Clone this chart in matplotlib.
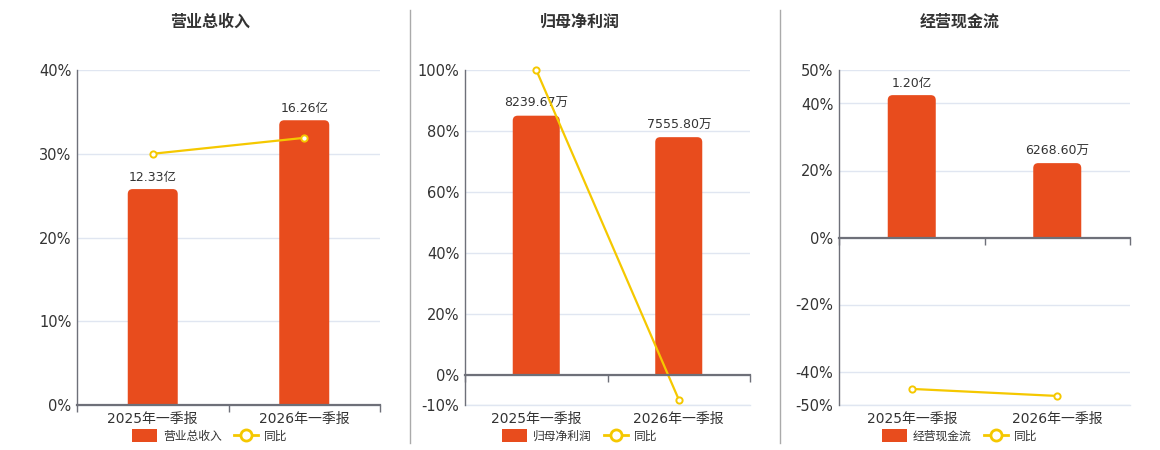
import matplotlib
matplotlib.use('Agg')
import matplotlib.pyplot as plt
from matplotlib.patches import Patch, PathPatch
from matplotlib.path import Path
from matplotlib.lines import Line2D

plt.rcParams['font.family'] = ['DejaVu Sans', 'Noto Sans CJK SC']

# 数据
categories = ['2025年一季报', '2026年一季报']

titles = ['营业总收入', '归母净利润', '经营现金流']

rev_values = [12.33, 16.26]          # 亿
rev_labels = ['12.33亿', '16.26亿']
rev_yoy = [30.0, 31.9]

profit_values = [8239.67, 7555.80]   # 万
profit_labels = ['8239.67万', '7555.80万']
profit_yoy = [100.0, -8.2]

cash_values = [12000.0, 6268.60]     # 万
cash_labels = ['1.20亿', '6268.60万']
cash_yoy = [-45.2, -47.3]

y_limits = [(0, 40), (-10, 100), (-50, 50)]
y_ticks = [[0, 10, 20, 30, 40],
           [-10, 0, 20, 40, 60, 80, 100],
           [-50, -40, -20, 0, 20, 40, 50]]

BAR_COLOR = '#e84c1d'
LINE_COLOR = '#f5c800'
AXIS_COLOR = '#6e7079'
GRID_COLOR = '#e0e6f1'
TEXT_COLOR = '#333333'

W, H = 1160, 450
fig = plt.figure(figsize=(W / 100, H / 100), dpi=100)

# 每个子图的像素位置 (左, 右), 以及标题/图例中心
panels = [(77, 380, 210), (465, 750, 580), (839, 1130, 960)]
top_px, bottom_px = 70, 405

series = [(rev_values, rev_labels, rev_yoy),
          (profit_values, profit_labels, profit_yoy),
          (cash_values, cash_labels, cash_yoy)]


def rounded_top(x0, w, h, rx, ry):
    """顶部圆角的柱子路径"""
    verts = [(x0, 0), (x0, h - ry), (x0, h), (x0 + rx, h),
             (x0 + w - rx, h), (x0 + w, h), (x0 + w, h - ry),
             (x0 + w, 0), (x0, 0)]
    codes = [Path.MOVETO, Path.LINETO, Path.CURVE3, Path.CURVE3,
             Path.LINETO, Path.CURVE3, Path.CURVE3,
             Path.LINETO, Path.CLOSEPOLY]
    return Path(verts, codes)


for i, ((lpx, rpx, cpx), (vals, labels, yoy)) in enumerate(zip(panels, series)):
    rect = [lpx / W, 1 - bottom_px / H, (rpx - lpx) / W, (bottom_px - top_px) / H]
    ax = fig.add_axes(rect)
    ax2 = ax.twinx()
    ax.set_zorder(2)
    ax2.set_zorder(1)
    ax.patch.set_visible(False)

    ymin, ymax = y_limits[i]
    ax.set_ylim(ymin, ymax)
    ax.set_xlim(-0.5, 1.5)

    # 柱子所在的副轴: 最大值对应正半轴的85%, 零点对齐
    bar_top = max(vals) / 0.85
    scale = bar_top / ymax
    ax2.set_ylim(ymin * scale, bar_top)
    ax2.set_yticks([t * scale for t in y_ticks[i]])
    ax2.yaxis.grid(True, color=GRID_COLOR, linewidth=1)
    ax2.set_axisbelow(True)
    ax2.tick_params(axis='y', length=0, labelright=False)
    for s in ax2.spines.values():
        s.set_visible(False)

    x = list(range(len(categories)))
    bars = ax2.bar(x, vals, width=0.33, color=BAR_COLOR, zorder=2)

    # 圆角柱顶
    w_px = rpx - lpx
    h_px = bottom_px - top_px
    xpp = 2.0 / w_px
    ypp = (bar_top - ymin * scale) / h_px
    for b in bars:
        b.set_visible(False)
        p = rounded_top(b.get_x(), b.get_width(), b.get_height(), 5 * xpp, 5 * ypp)
        ax2.add_patch(PathPatch(p, facecolor=BAR_COLOR, edgecolor='none', zorder=2))
    ax2.bar_label(bars, labels=labels, padding=4, fontsize=9, color=TEXT_COLOR)

    # 最下方网格线
    ax.axhline(ymin, color=GRID_COLOR, linewidth=1, clip_on=False, zorder=0)

    # 同比折线
    ax.plot(x, yoy, color=LINE_COLOR, linewidth=1.6, marker='o', markersize=4.5,
            markerfacecolor='white', markeredgecolor=LINE_COLOR,
            markeredgewidth=1.4, zorder=5, clip_on=False)

    # 坐标轴样式
    ax.set_yticks(y_ticks[i])
    ax.set_yticklabels([f'{t}%' for t in y_ticks[i]])
    ax.tick_params(axis='y', length=0, pad=4, labelsize=10.5, labelcolor=TEXT_COLOR)
    ax.spines['top'].set_visible(False)
    ax.spines['right'].set_visible(False)
    ax.spines['left'].set_color(AXIS_COLOR)
    ax.spines['left'].set_linewidth(1)
    ax.spines['bottom'].set_position(('data', 0))
    ax.spines['bottom'].set_color(AXIS_COLOR)
    ax.spines['bottom'].set_linewidth(1.6)
    ax.spines['bottom'].set_zorder(6)
    ax.set_xticks([-0.5, 0.5, 1.5])
    ax.tick_params(axis='x', length=5, width=1, color=AXIS_COLOR, labelbottom=False)
    for xi, cat in zip(x, categories):
        ax.text(xi, -0.022, cat, transform=ax.get_xaxis_transform(),
                ha='center', va='top', fontsize=10, color=TEXT_COLOR)

    # 标题
    fig.text(cpx / W, 1 - 22 / H, titles[i], ha='center', va='center',
             fontsize=11.5, fontweight='bold', color=TEXT_COLOR)

    # 图例
    handles = [Patch(facecolor=BAR_COLOR, edgecolor='none'),
               Line2D([], [], color=LINE_COLOR, linewidth=2, marker='o',
                      markersize=8, markerfacecolor='white',
                      markeredgecolor=LINE_COLOR, markeredgewidth=2)]
    ax.legend(handles, [titles[i], '同比'], loc='center', ncol=2,
              bbox_to_anchor=(cpx / W, 1 - 436 / H), bbox_transform=fig.transFigure,
              frameon=False, fontsize=8.5, handlelength=2.1, handleheight=1.3,
              handletextpad=0.5, columnspacing=1.0, labelcolor=TEXT_COLOR,
              borderpad=0, borderaxespad=0)

# 分隔线
for sx in (410, 780):
    fig.add_artist(Line2D([sx / W, sx / W], [1 - 10 / H, 1 - 443 / H],
                          color='#aaaaaa', linewidth=1))

fig.savefig('out.png', dpi=100, facecolor='white')
